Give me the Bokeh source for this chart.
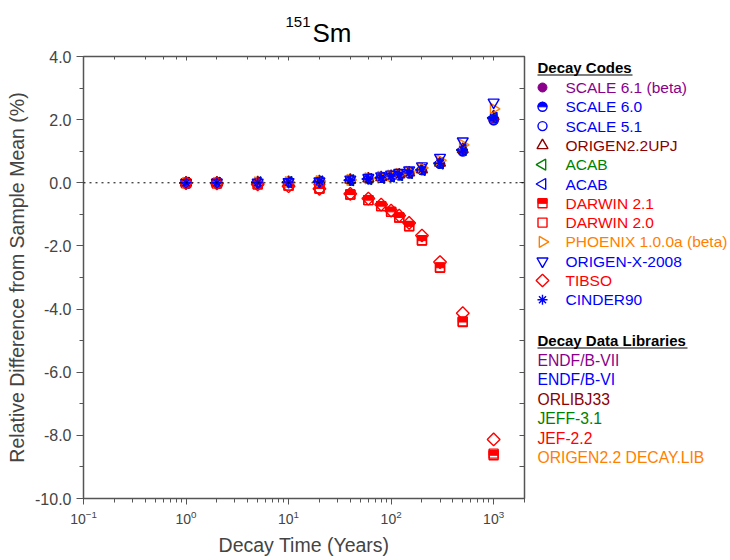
import numpy as np
from bokeh.plotting import figure
from bokeh.models import (Range1d, LogAxis, LinearAxis, Span, SingleIntervalTicker,
                          PrintfTickFormatter, LogTicker, ColumnDataSource)
from bokeh.layouts import row, column
from bokeh.core.properties import value
from bokeh.transform import dodge
from bokeh.embed import file_html
from bokeh.resources import INLINE

FONT = "Liberation Sans"

# ---------------- data ----------------
decay_time = [1, 2, 5, 10, 20, 40, 60, 80, 100, 120, 150, 200, 300, 500, 1000]

scale_61 = [0.00, 0.00, 0.01, 0.02, 0.04, 0.08, 0.12, 0.16, 0.20, 0.24, 0.30, 0.40, 0.61, 1.02, 2.03]
scale_60 = [0.00, 0.00, 0.01, 0.02, 0.04, 0.08, 0.12, 0.16, 0.20, 0.24, 0.30, 0.40, 0.60, 1.00, 1.99]
scale_51 = [0.00, 0.00, 0.01, 0.02, 0.04, 0.08, 0.12, 0.16, 0.20, 0.24, 0.30, 0.40, 0.60, 1.00, 1.98]
origen22upj = [0.00, 0.00, 0.01, 0.02, 0.04, 0.09, 0.13, 0.17, 0.21, 0.26, 0.32, 0.42, 0.63, 1.06, 2.10]
acab_jeff = [0.00, 0.00, 0.01, 0.02, 0.04, 0.08, 0.12, 0.16, 0.20, 0.24, 0.31, 0.41, 0.61, 1.03, 2.05]
acab_endf = [0.00, 0.00, 0.01, 0.02, 0.04, 0.08, 0.12, 0.16, 0.20, 0.25, 0.31, 0.41, 0.62, 1.04, 2.06]
darwin_21 = [-0.01, -0.02, -0.05, -0.09, -0.18, -0.37, -0.55, -0.74, -0.92, -1.10, -1.38, -1.83, -2.69, -4.41, -8.63]
darwin_20 = [-0.01, -0.02, -0.05, -0.09, -0.18, -0.37, -0.55, -0.74, -0.92, -1.10, -1.37, -1.82, -2.68, -4.39, -8.58]
phoenix = [0.00, 0.00, 0.01, 0.02, 0.05, 0.09, 0.14, 0.19, 0.23, 0.28, 0.35, 0.47, 0.71, 1.20, 2.34]
origen_x = [0.00, 0.01, 0.01, 0.03, 0.05, 0.11, 0.16, 0.21, 0.27, 0.32, 0.40, 0.53, 0.80, 1.32, 2.55]
tibso = [-0.01, -0.02, -0.05, -0.11, -0.19, -0.35, -0.50, -0.69, -0.88, -1.04, -1.27, -1.67, -2.51, -4.13, -8.13]
cinder90 = [0.00, 0.00, 0.01, 0.02, 0.04, 0.08, 0.12, 0.16, 0.21, 0.25, 0.31, 0.41, 0.62, 1.04, 2.07]

code_names = ["SCALE 6.1 (beta)", "SCALE 6.0", "SCALE 5.1", "ORIGEN2.2UPJ", "ACAB", "ACAB",
              "DARWIN 2.1", "DARWIN 2.0", "PHOENIX 1.0.0a (beta)", "ORIGEN-X-2008", "TIBSO", "CINDER90"]
code_values = [scale_61, scale_60, scale_51, origen22upj, acab_jeff, acab_endf,
               darwin_21, darwin_20, phoenix, origen_x, tibso, cinder90]

library_names = ["ENDF/B-VII", "ENDF/B-VI", "ORLIBJ33", "JEFF-3.1", "JEF-2.2", "ORIGEN2.2 DECAY.LIB"]

title_sup = "151"
title_main = "Sm"

# ---------------- styles ----------------
PURPLE = "#8B008B"
BLUE = "#0000FF"
DRED = "#8B0000"
GREEN = "#008000"
RED = "#FF0000"
ORANGE = "#FF8000"
AXC = "#555555"

code_colors = [PURPLE, BLUE, BLUE, DRED, GREEN, BLUE, RED, RED, ORANGE, BLUE, RED, BLUE]
code_kinds = ["filled_circle", "half_circle", "open_circle", "tri_up", "tri_left", "tri_left",
              "half_square", "open_square", "tri_right", "tri_down", "diamond", "asterisk"]
library_colors = [PURPLE, BLUE, DRED, GREEN, RED, ORANGE]


def draw_marker(fig, src, kind, color, half_dy, size=9):
    lw = 1.4
    if kind == "filled_circle":
        fig.scatter(x="x", y="y", source=src, marker="circle", size=size,
                    fill_color=color, line_color=color, line_width=1)
    elif kind == "half_circle":
        fig.scatter(x="x", y="y", source=src, marker="circle", size=size,
                    fill_alpha=0, line_color=color, line_width=lw)
        fig.wedge(x="x", y="y", source=src, radius=size / 2.0, radius_units="screen",
                  start_angle=0, end_angle=np.pi, fill_color=color, line_color=color, line_width=1)
    elif kind == "open_circle":
        fig.scatter(x="x", y="y", source=src, marker="circle", size=size,
                    fill_alpha=0, line_color=color, line_width=lw)
    elif kind == "tri_up":
        fig.scatter(x="x", y="y", source=src, marker="triangle", size=size + 2,
                    fill_alpha=0, line_color=color, line_width=lw)
    elif kind == "tri_down":
        fig.scatter(x="x", y="y", source=src, marker="inverted_triangle", size=size + 2,
                    fill_alpha=0, line_color=color, line_width=lw)
    elif kind == "tri_left":
        fig.scatter(x="x", y="y", source=src, marker="triangle", size=size + 2, angle=np.pi / 2,
                    fill_alpha=0, line_color=color, line_width=lw)
    elif kind == "tri_right":
        fig.scatter(x="x", y="y", source=src, marker="triangle", size=size + 2, angle=-np.pi / 2,
                    fill_alpha=0, line_color=color, line_width=lw)
    elif kind == "half_square":
        fig.scatter(x="x", y="y", source=src, marker="square", size=size,
                    fill_alpha=0, line_color=color, line_width=lw)
        fig.rect(x="x", y=dodge("y", half_dy), source=src, width=size, height=size / 2.0,
                 width_units="screen", height_units="screen", fill_color=color, line_color=color,
                 line_width=1)
    elif kind == "open_square":
        fig.scatter(x="x", y="y", source=src, marker="square", size=size,
                    fill_alpha=0, line_color=color, line_width=lw)
    elif kind == "diamond":
        fig.scatter(x="x", y="y", source=src, marker="square", size=size, angle=np.pi / 4,
                    fill_alpha=0, line_color=color, line_width=lw)
    elif kind == "asterisk":
        fig.scatter(x="x", y="y", source=src, marker="asterisk", size=size + 1,
                    line_color=color, line_width=lw)


def bare(fig):
    fig.xaxis.visible = False
    fig.yaxis.visible = False
    fig.xgrid.visible = False
    fig.ygrid.visible = False
    fig.outline_line_color = None


# ---------------- title strip ----------------
TH = 50
tf = figure(width=530, height=TH, x_range=Range1d(83, 524), y_range=Range1d(0, TH),
            output_backend="svg", toolbar_location=None,
            min_border_left=83, min_border_right=6, min_border_top=0, min_border_bottom=0)
bare(tf)
tf.text(x=[312], y=[TH - 32.5], text=[title_main], text_color="black",
        text_font=value(FONT), text_font_size="26px", text_baseline="middle")
tf.text(x=[285], y=[TH - 21.5], text=[title_sup], text_color="black",
        text_font=value(FONT), text_font_size="15px", text_baseline="middle")

# ---------------- main figure ----------------
p = figure(width=530, height=560 - TH, x_axis_type="log",
           x_range=Range1d(0.1, 2000), y_range=Range1d(-10, 4),
           output_backend="svg", toolbar_location=None,
           min_border_left=83, min_border_right=6, min_border_top=6, min_border_bottom=62)
p.xgrid.visible = False
p.ygrid.visible = False
p.outline_line_color = AXC
p.outline_line_width = 1.5

xa = p.xaxis[0]
xa.axis_label = "Decay Time (Years)"
xa.axis_label_text_font = FONT
xa.axis_label_text_font_size = "19.5px"
xa.axis_label_text_font_style = "normal"
xa.major_label_text_font = FONT
xa.major_label_text_font_size = "14px"
xa.major_tick_out = 6
xa.major_tick_in = 0
xa.minor_tick_out = 4
xa.minor_tick_in = 0
xa.axis_line_color = AXC
xa.major_tick_line_color = AXC
xa.minor_tick_line_color = AXC
xa.axis_label_standoff = 7

ya = p.yaxis[0]
ya.axis_label = "Relative Difference from Sample Mean (%)"
ya.axis_label_text_font = FONT
ya.axis_label_text_font_size = "19.5px"
ya.axis_label_text_font_style = "normal"
ya.major_label_text_font = FONT
ya.major_label_text_font_size = "16px"
ya.ticker = SingleIntervalTicker(interval=2, num_minor_ticks=2)
ya.formatter = PrintfTickFormatter(format="%.1f")
ya.major_tick_out = 7
ya.major_tick_in = 0
ya.minor_tick_out = 4
ya.minor_tick_in = 0
ya.axis_line_color = AXC
ya.major_tick_line_color = AXC
ya.minor_tick_line_color = AXC
ya.axis_label_standoff = 4

top = LogAxis(ticker=LogTicker(), major_label_text_font_size="1px", major_label_text_alpha=0,
              major_label_standoff=0,
              major_tick_in=4, major_tick_out=0, minor_tick_in=3, minor_tick_out=0,
              axis_line_color=AXC, major_tick_line_color=AXC, minor_tick_line_color=AXC)
p.add_layout(top, "above")
right = LinearAxis(ticker=SingleIntervalTicker(interval=1, num_minor_ticks=0),
                   major_label_text_font_size="1px", major_label_text_alpha=0,
                   major_label_standoff=0,
                   major_tick_in=5, major_tick_out=0, minor_tick_in=0, minor_tick_out=0,
                   axis_line_color=AXC, major_tick_line_color=AXC)
p.add_layout(right, "right")

p.add_layout(Span(location=0, dimension="width", line_color="black", line_dash="dotted",
                  line_width=1))

for vals, kind, color in zip(code_values, code_kinds, code_colors):
    src = ColumnDataSource(dict(x=decay_time, y=vals))
    draw_marker(p, src, kind, color, half_dy=0.07)

# ---------------- legend panel (pixel coordinates, y measured up from page bottom) ----------------
H = 560
lg = figure(width=200, height=H, x_range=Range1d(0, 200), y_range=Range1d(62, 504),
            output_backend="svg", toolbar_location=None,
            min_border_left=0, min_border_right=0, min_border_top=56, min_border_bottom=62)
bare(lg)

marker_x = 12
text_x = 35
row0 = 87
step = 19.3
code_rows = [H - (row0 + i * step) for i in range(len(code_names))]
for yy, kind, color in zip(code_rows, code_kinds, code_colors):
    src = ColumnDataSource(dict(x=[marker_x], y=[yy]))
    draw_marker(lg, src, kind, color, half_dy=2.2)

lg.text(x=[text_x] * len(code_names), y=code_rows, text=code_names, text_color=code_colors,
        text_font=value(FONT), text_font_size="15.5px", text_baseline="middle")

lib0 = 360
lib_step = 19.4
lib_rows = [H - (lib0 + i * lib_step) for i in range(len(library_names))]
lg.text(x=[7] * len(library_names), y=lib_rows, text=library_names, text_color=library_colors,
        text_font=value(FONT), text_font_size="15.7px", text_baseline="middle")

headers = ["Decay Codes", "Decay Data Libraries"]
header_rows = [H - 67, H - 340]
lg.text(x=[7, 7], y=header_rows, text=headers, text_color="black",
        text_font=value(FONT), text_font_size="15px", text_font_style="bold",
        text_baseline="middle")
lg.segment(x0=[7, 7], x1=[102, 157], y0=[H - 74.5, H - 347.5], y1=[H - 74.5, H - 347.5],
           line_color="black", line_width=1.2)

layout = row(column(tf, p), lg)
open("out.html", "w").write(file_html(layout, INLINE))
